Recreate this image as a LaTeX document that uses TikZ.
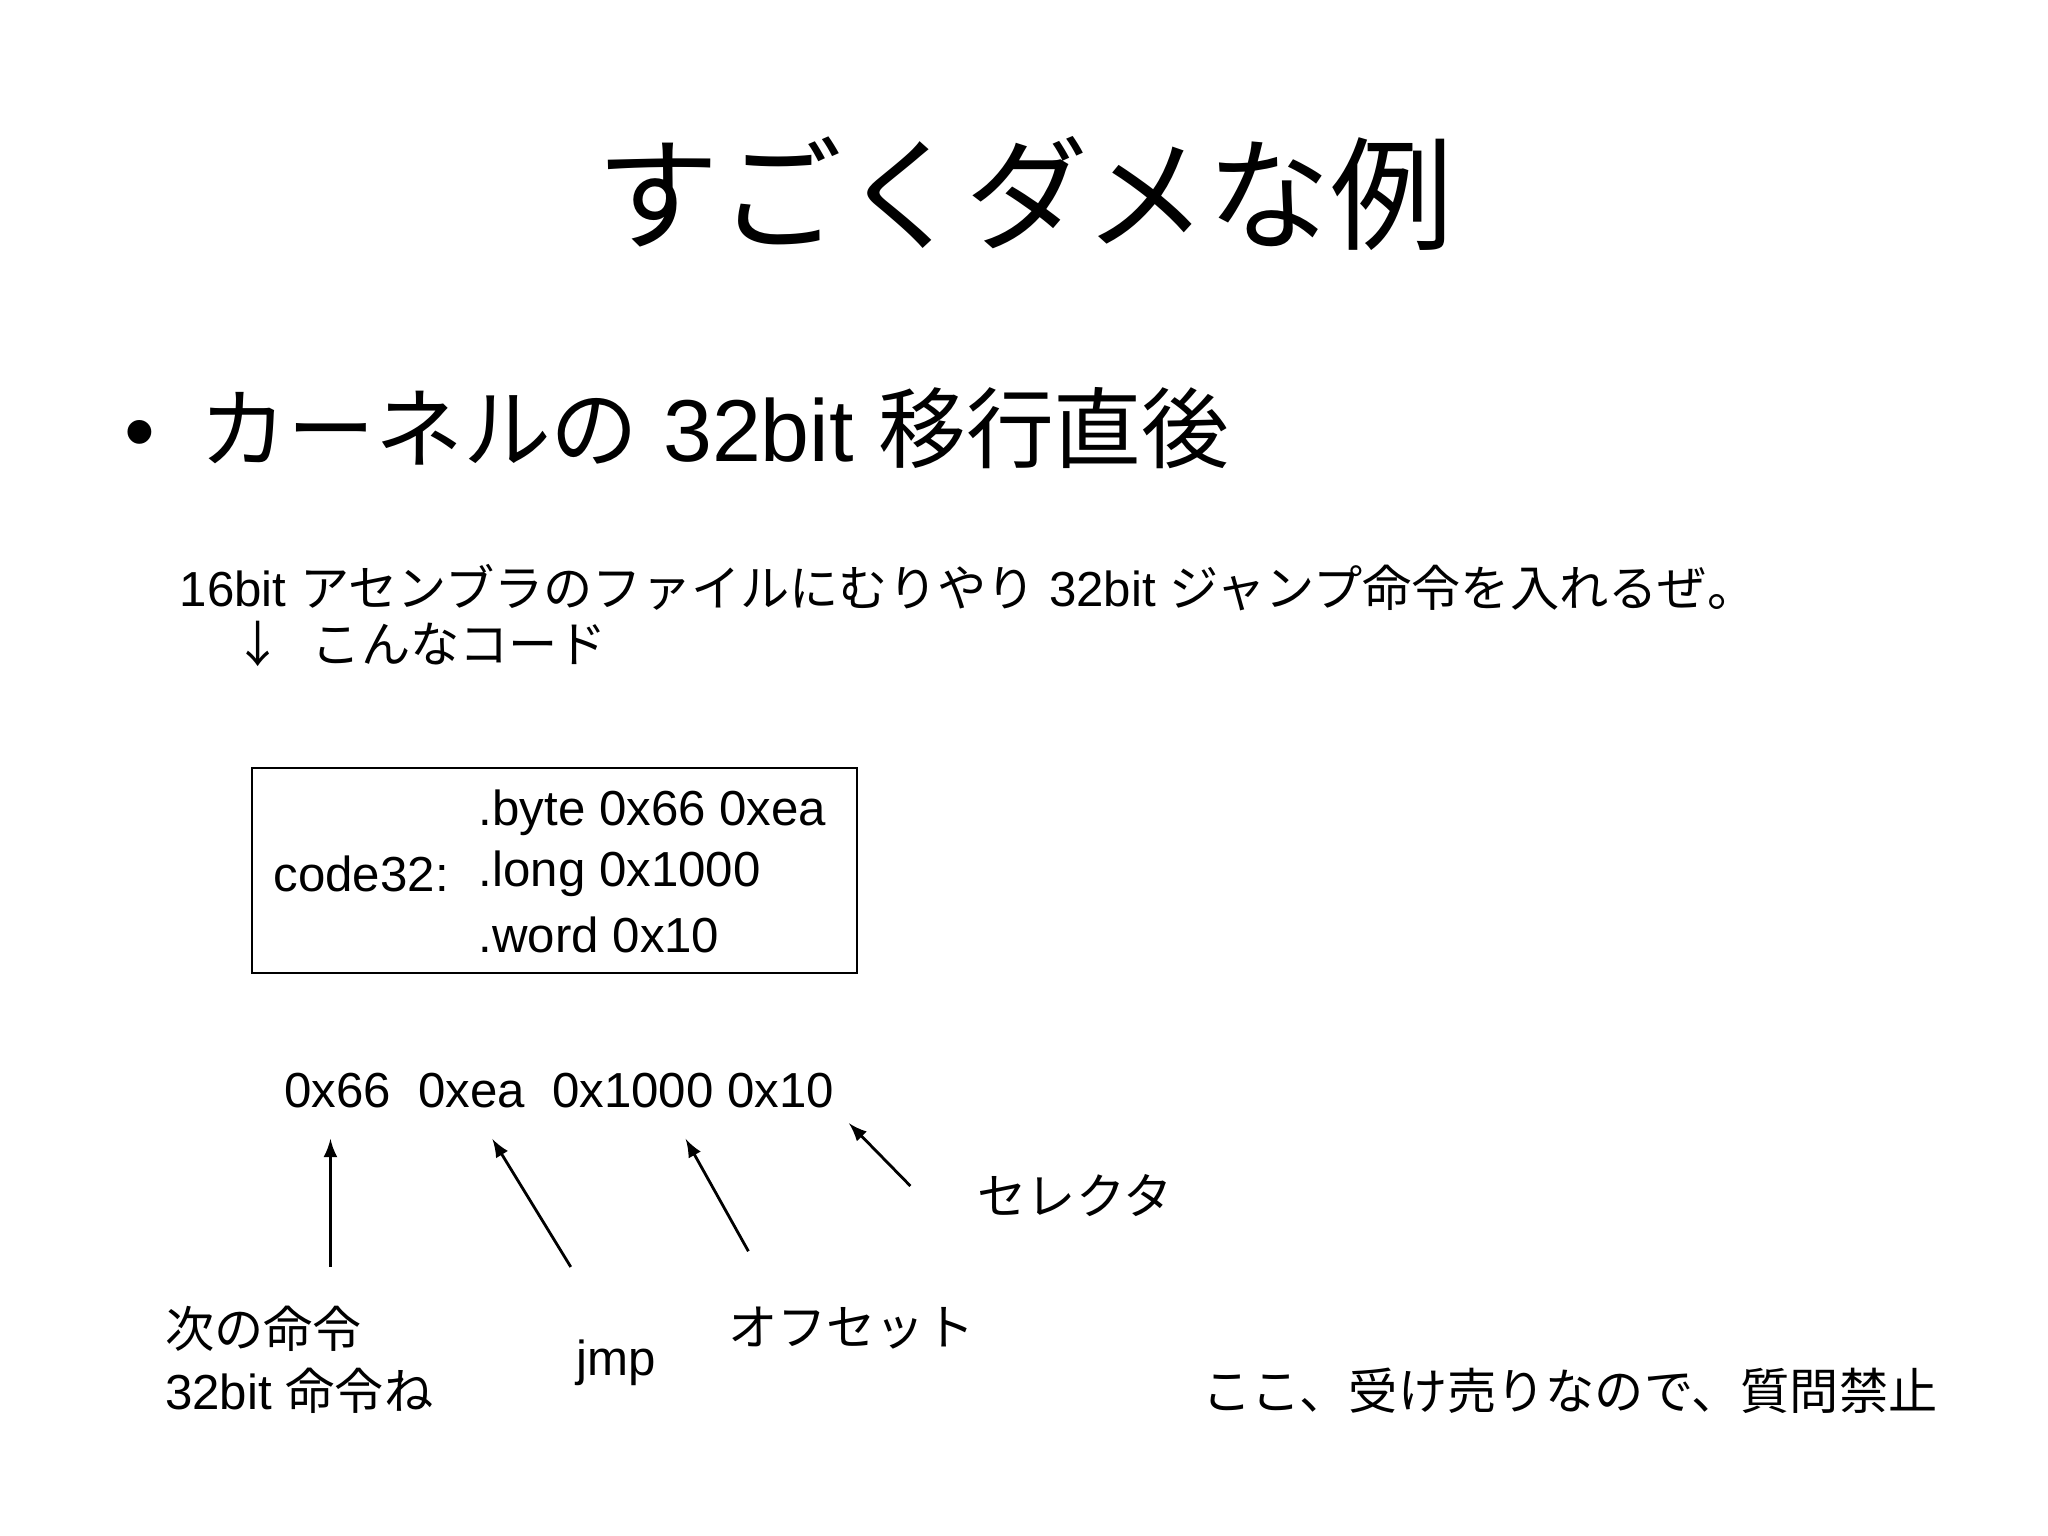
\documentclass[tikz,border=0pt]{standalone}
\usepackage{fontspec}
\setmainfont{Liberation Sans}
\newfontfamily\jp{Noto Sans CJK JP}
\begin{document}
\begin{tikzpicture}[x=0.01306cm,y=-0.01306cm,
  t/.style={anchor=west,inner sep=0,font=\fontsize{14}{16}\selectfont},
  arr/.style={-latex,line width=0.8pt}]
\useasboundingbox (0,0) rectangle (1568,1176);
\node[inner sep=0,font=\fontsize{35}{40}\selectfont\jp] (title) at (785,148) {すごくダメな例};
\node[t,font=\fontsize{25}{30}\selectfont] (b) at (95,328) {•\hspace{0.5em}{\jp カーネルの} 32bit {\jp 移行直後}};
\node[t] (l1) at (137,450) {16bit {\jp アセンブラのファイルにむりやり} 32bit {\jp ジャンプ命令を入れるぜ。}};
\node[t] (l2) at (178,493) {{\jp ↓\hspace{0.6em}こんなコード}};
\draw[line width=0.7pt] (193,588) rectangle (656,745);
\node[t] (c1) at (366,622) {.byte 0x66 0xea};
\node[t] (c0) at (209,669) {code32:};
\node[t] (c2) at (366,669) {.long 0x1000};
\node[t] (c3) at (366,716) {.word 0x10};
\node[t] (bytes) at (217,835) {0x66\ \ 0xea\ \ 0x1000 0x10};
\coordinate (a1s) at (253,970); \coordinate (a1e) at (253,872);
\coordinate (a2s) at (437,970); \coordinate (a2e) at (377,872);
\coordinate (a3s) at (573,958); \coordinate (a3e) at (525,872);
\coordinate (a4s) at (697,908); \coordinate (a4e) at (650,860);
\draw[arr] (a1s) -- (a1e);
\draw[arr] (a2s) -- (a2e);
\draw[arr] (a3s) -- (a3e);
\draw[arr] (a4s) -- (a4e);
\node[t] (sel) at (748,915) {\jp セレクタ};
\node[t] (n1) at (126,1017) {\jp 次の命令};
\node[t] (n2) at (126,1065) {32bit {\jp 命令ね}};
\node[t] (jmp) at (441,1043) {jmp};
\node[t] (ofs) at (557,1017) {\jp オフセット};
\node[t] (note) at (920,1065) {\jp ここ、受け売りなので、質問禁止};
\end{tikzpicture}
\end{document}
